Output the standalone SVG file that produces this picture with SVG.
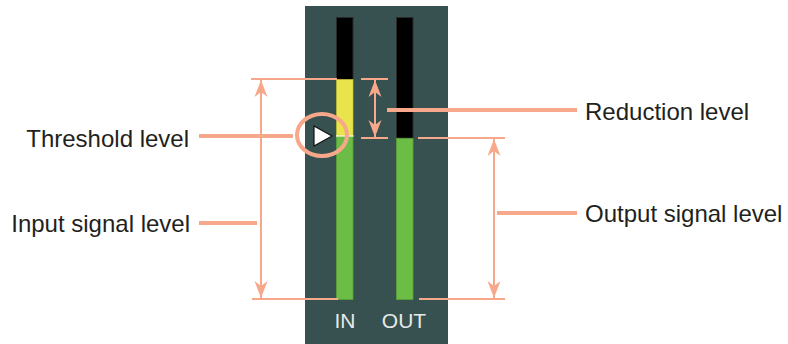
<svg xmlns="http://www.w3.org/2000/svg" width="788" height="344" viewBox="0 0 788 344">
<style>
.lbl{font-family:"Liberation Sans",Arial,sans-serif;font-size:24px;fill:#231f20}
.meter{font-family:"Liberation Sans",Arial,sans-serif;font-size:21px;fill:#e6eae8}
.thin{stroke:#f7a88a;stroke-width:2;fill:none}
.lead{stroke:#f7a88a;stroke-width:4;fill:none}
</style>
<defs>
<marker id="ah" markerUnits="userSpaceOnUse" markerWidth="20" markerHeight="16" viewBox="-18 -8 20 16" refX="0" refY="0" orient="auto-start-reverse">
<path d="M0,0 L-17,-6.5 L-12,0 L-17,6.5 Z" fill="#f7a88a"/>
</marker>
</defs>
<rect width="788" height="344" fill="#ffffff"/>
<g id="panel">
<rect x="305" y="6" width="143" height="338" fill="#375050"/>
</g>
<g id="meter-in">
<rect x="336.5" y="17.5" width="16.5" height="62" fill="#000" stroke="#2a2a2a"/>
<rect x="336.5" y="79.5" width="16.5" height="56.5" fill="#e9e44b" stroke="#c9c43a" stroke-width="0.6"/>
<rect x="336.5" y="136.5" width="16.5" height="163" fill="#6cbd45" stroke="#5aa238" stroke-width="0.8"/>
<line x1="336" y1="136" x2="353.5" y2="136" stroke="#f4f6d0" stroke-width="1.5"/>
<text class="meter" x="345" y="328" text-anchor="middle">IN</text>
</g>
<g id="meter-out">
<rect x="396.5" y="17.5" width="16.5" height="120.5" fill="#000" stroke="#2a2a2a"/>
<rect x="396.5" y="138.5" width="16.5" height="161" fill="#6cbd45" stroke="#5aa238" stroke-width="0.8"/>
<text class="meter" x="404" y="328" text-anchor="middle">OUT</text>
</g>
<g id="threshold-marker">
<path d="M314,126 L314,146 L332,136 Z" fill="#ffffff" stroke="#111" stroke-width="1.2"/>
</g>
<g id="connectors">
<line class="thin" x1="251" y1="79" x2="337" y2="79"/>
<line class="thin" x1="252" y1="299" x2="338" y2="299"/>
<line class="thin" x1="261" y1="80" x2="261" y2="298" marker-start="url(#ah)" marker-end="url(#ah)"/>
<line class="thin" x1="361" y1="79" x2="388" y2="79"/>
<line class="thin" x1="361" y1="138" x2="388" y2="138"/>
<line class="thin" x1="375" y1="80" x2="375" y2="137" marker-start="url(#ah)" marker-end="url(#ah)"/>
<line class="thin" x1="418" y1="138" x2="505" y2="138"/>
<line class="thin" x1="419" y1="299" x2="505" y2="299"/>
<line class="thin" x1="494" y1="139" x2="494" y2="298" marker-start="url(#ah)" marker-end="url(#ah)"/>
<line class="lead" x1="199" y1="136" x2="293" y2="136"/>
<ellipse class="lead" cx="322" cy="135" rx="25" ry="21"/>
<line class="lead" x1="199" y1="223" x2="257" y2="223"/>
<line class="lead" x1="387" y1="110" x2="577" y2="110"/>
<line class="lead" x1="497" y1="213" x2="577" y2="213"/>
</g>
<g id="labels">
<text class="lbl" x="189" y="147" text-anchor="end">Threshold level</text>
<text class="lbl" x="190" y="232" text-anchor="end">Input signal level</text>
<text class="lbl" x="585" y="120">Reduction level</text>
<text class="lbl" x="585" y="222">Output signal level</text>
</g>
</svg>
